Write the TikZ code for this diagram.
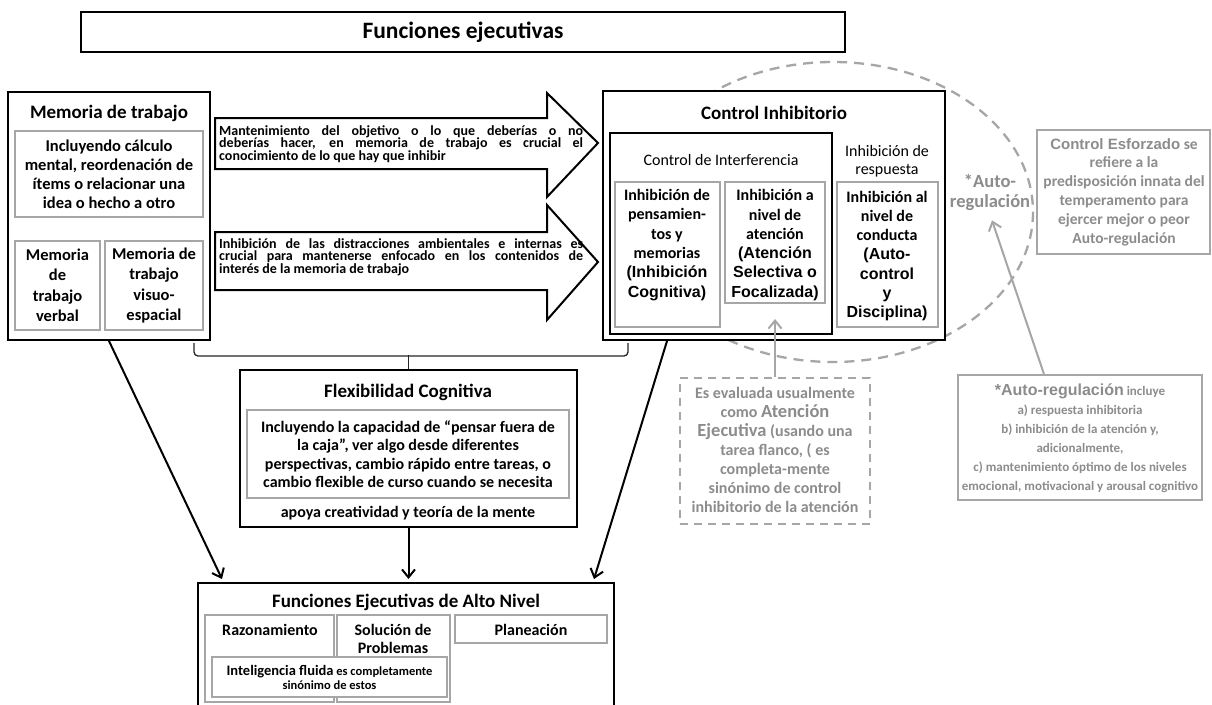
\documentclass[tikz,border=0pt]{standalone}
\usepackage{fontspec}
\setmainfont{Carlito}
\newfontfamily\arial{Liberation Sans}
\usetikzlibrary{arrows.meta,calc}
\definecolor{lg}{RGB}{166,166,166}
\definecolor{tg}{RGB}{140,140,140}
\newcommand\fs[2]{\fontsize{#1}{#2}\selectfont}
\newcommand\mkbox[6]{\node[#6, minimum width={(#4)-(#2)}, minimum height={(#5)-(#3)}] (#1) at ({((#2)+(#4))/2},{((#3)+(#5))/2}) {};}
\begin{document}
\begin{tikzpicture}[x=1pt,y=-1pt,
  blk/.style={draw=black, line width=2pt, fill=white, inner sep=0pt},
  gbx/.style={draw=lg, line width=2.2pt, fill=white, inner sep=0pt},
  dbx/.style={draw=lg, line width=2pt, dash pattern=on 8pt off 6pt, fill=white, inner sep=0pt},
  txt/.style={inner sep=0pt, align=center},
  gtxt/.style={txt, text=tg},
  con/.style={line width=2pt, -{Straight Barb[length=8pt,width=13pt,line width=2pt]}},
  gcon/.style={line width=2pt, draw=lg, -{Straight Barb[length=8pt,width=13pt,line width=2pt]}},
  arr/.style={draw=black, line width=2pt, fill=white, line join=miter},
  atxt/.style={inner sep=0pt, text width=364pt, align=justify, font=\bfseries\fs{14}{12.6}}
]
\fill[white] (0,0) rectangle (1212,704);
\useasboundingbox (0,0) rectangle (1212,704);

% self-regulation ellipse
\draw[draw=lg, line width=2.3pt, dash pattern=on 10pt off 7pt] (833,212) ellipse [x radius=200, y radius=150];

% title
\mkbox{ttlb}{81}{12}{845}{52}{blk}
\node[txt, font=\bfseries\fs{23.5}{26}] (ttl) at (ttlb) {Funciones ejecutivas};

% working memory
\mkbox{mem}{8}{92}{210}{340}{blk}
\node[txt, font=\bfseries\fs{19}{22}] (memt) at (109,113) {Memoria de trabajo};
\mkbox{memi}{15}{131}{203}{217}{gbx}
\node[txt, font=\bfseries\fs{16.5}{19}] (memit) at (memi) {Incluyendo cálculo\\mental, reordenación de\\ítems o relacionar una\\idea o hecho a otro};
\mkbox{memv}{15}{241}{100}{330}{gbx}
\node[txt, font=\bfseries\fs{16.5}{20.5}] (memvt) at (memv) {Memoria\\de\\trabajo\\verbal};
\mkbox{mems}{105}{241}{203}{330}{gbx}
\node[txt, font=\bfseries\fs{16.5}{20.5}] (memst) at (mems) {Memoria de\\trabajo\\visuo-\\espacial};

% block arrows
\draw[arr] (215,118) -- (547,118) -- (547,93) -- (598,143) -- (547,197) -- (547,169) -- (215,169) -- cycle;
\node[atxt, anchor=north west] (a1t) at (219,125) {\noindent Mantenimiento del objetivo o lo que deberías o no\linebreak deberías hacer, en memoria de trabajo es crucial el\linebreak conocimiento de lo que hay que inhibir};
\draw[arr] (215,232) -- (547,232) -- (547,205) -- (598,262) -- (547,320) -- (547,290) -- (215,290) -- cycle;
\node[atxt, anchor=north west] (a2t) at (219,238) {\noindent Inhibición de las distracciones ambientales e internas es\linebreak crucial para mantenerse enfocado en los contenidos de\linebreak interés de la memoria de trabajo};

% inhibitory control
\mkbox{ci}{603}{91}{945}{340}{blk}
\node[txt, font=\bfseries\fs{19}{22}] (cit) at (774,113) {Control Inhibitorio};
\mkbox{cif}{610}{133}{832}{334}{blk}
\node[txt, font=\fs{16}{19}] (ciftt) at (721,160) {Control de Interferencia};
\node[txt, font=\fs{16}{18}] (rest) at (887,161) {Inhibición de\\respuesta};
\mkbox{ib1}{615}{182}{720}{327}{gbx}
\node[txt, font=\bfseries\fs{16}{19.3}] (ib1t) at (667,245) {Inhibición de\\pensamien-\\tos y\\memorias\\{\arial (Inhibición}\\{\arial Cognitiva)}};
\mkbox{ib2}{725}{182}{825}{303}{gbx}
\node[txt, font=\bfseries\fs{16}{19.3}] (ib2t) at (775,245) {Inhibición a\\nivel de\\atención\\{\arial (Atención}\\{\arial Selectiva o}\\{\arial Focalizada)}};
\mkbox{ib3}{837}{182}{938}{327}{gbx}
\node[txt, font=\bfseries\fs{16}{19.3}] (ib3t) at (887,256) {Inhibición al\\nivel de\\conducta\\{\arial (Auto-}\\{\arial control}\\{\arial y}\\{\arial Disciplina)}};

% bracket
\draw[black!85, line width=1.3pt, rounded corners=4pt] (194,343) -- (194,356) -- (628,356) -- (628,343);

% cognitive flexibility
\mkbox{flex}{240}{370}{577}{527}{blk}
\draw[black!85, line width=1.3pt] (flex.north) -- ++(0,-14);
\node[txt, font=\bfseries\fs{19}{22}] (flext) at (408,392) {Flexibilidad Cognitiva};
\mkbox{flexi}{247}{410}{569}{498}{gbx}
\node[txt, font=\bfseries\fs{16}{18.5}] (flexit) at (flexi) {Incluyendo la capacidad de “pensar fuera de\\la caja”, ver algo desde diferentes\\perspectivas, cambio rápido entre tareas, o\\cambio flexible de curso cuando se necesita};
\node[txt, font=\bfseries\fs{16}{19}] (flexa) at (408,513) {apoya creatividad y teoría de la mente};

% higher-level executive functions
\mkbox{fea}{198}{583}{614}{716}{blk}
\node[txt, font=\bfseries\fs{19}{22}] (feat) at (406,602) {Funciones Ejecutivas de Alto Nivel};
\mkbox{raz}{205}{615}{334}{702}{gbx}
\mkbox{sol}{337}{615}{450}{702}{gbx}
\mkbox{pla}{455}{615}{607}{643}{gbx}
\node[txt, font=\bfseries\fs{16}{18}] (razt) at (270,630) {Razonamiento};
\node[txt, font=\bfseries\fs{16}{18}] (solt) at (393,639) {Solución de\\Problemas};
\node[txt, font=\bfseries\fs{16}{18}] (plat) at (531,630) {Planeación};
\mkbox{intl}{212}{657}{447}{697}{gbx}
\node[txt, font=\bfseries\fs{12.5}{14}] (intlt) at (intl) {{\fs{14.5}{14}Inteligencia fluida} es completamente\\sinónimo de estos};

% black connectors
\draw[con] (mem.south) -- ($(fea.north west)+(25,-3)$);
\draw[con] (flex.south) -- ($(flex.south |- fea.north)+(0,-3)$);
\draw[con] ($(ci.south west)+(65,0)$) -- ($(fea.north east)+(-21,-3)$);

% executive attention note
\mkbox{eval}{680}{378}{870}{524}{dbx}
\node[gtxt, font=\bfseries\fs{16}{19}] (evalt) at (775,450) {Es evaluada usualmente\\como {\fs{18.5}{19}Atención}\\{\fs{18.5}{19}Ejecutiva} (usando una\\tarea flanco, ( es\\completa-mente\\sinónimo de control\\inhibitorio de la atención};
\draw[gcon] (eval.north) -- ++(0,-58);

% self-regulation label
\node[gtxt, font=\bfseries\fs{18.5}{20}] (arl) at (990,192) {*Auto-\\regulación};

% effortful control
\mkbox{ces}{1037}{130}{1210}{254}{gbx}
\node[gtxt, font=\bfseries\fs{15.5}{18.8}] (cest) at (1124,192) {{\arial\fs{15}{18.8}Control Esforzado} se\\refiere a la\\predisposición innata del\\temperamento para\\ejercer mejor o peor\\Auto-regulación};

% self-regulation includes
\mkbox{areg}{958}{375}{1202}{500}{gbx}
\node[gtxt, font=\bfseries\fs{13}{19}] (aregt) at (1080,438) {{\arial\fs{16}{19}*Auto-regulación} incluye\\a) respuesta inhibitoria\\b) inhibición de la atención y,\\adicionalmente,\\c) mantenimiento óptimo de los niveles\\emocional, motivacional y arousal cognitivo};
\draw[gcon] ($(areg.north west)+(87,0)$) -- ($(arl.south)+(2,10)$);
\end{tikzpicture}
\end{document}
